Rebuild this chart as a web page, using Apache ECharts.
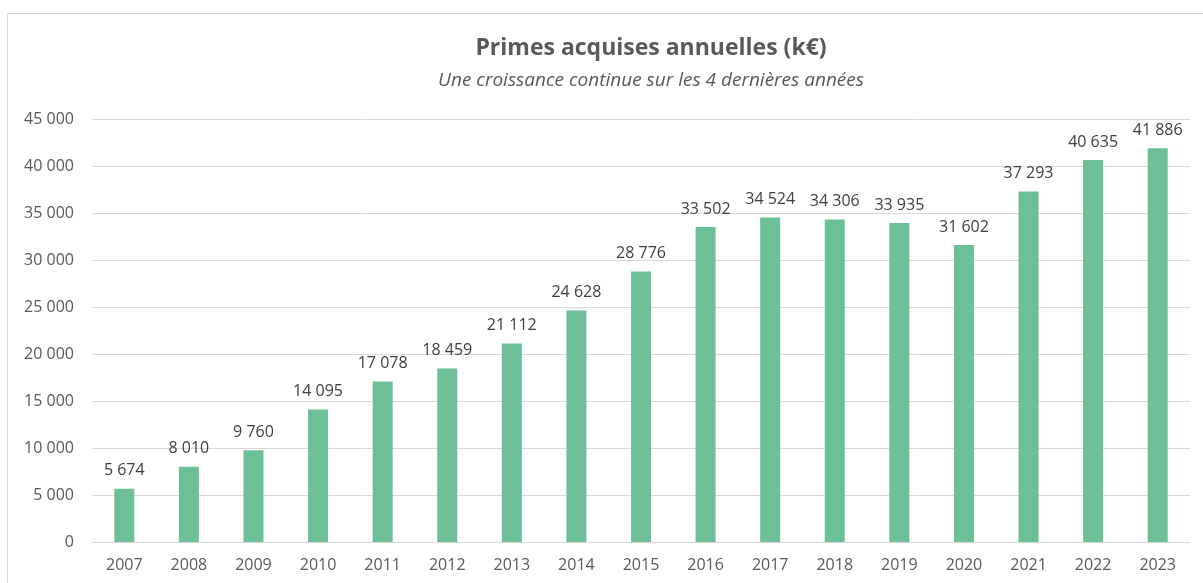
<!DOCTYPE html>
<html>
<head>
<meta charset="utf-8">
<script src="https://cdn.jsdelivr.net/npm/echarts@6/dist/echarts.min.js"></script>
<style>
  html, body { margin: 0; padding: 0; background: #fff; }
  #frame { position: absolute; left: 7px; top: 13px; width: 1220px; height: 600px; border: 1px solid #d9d9d9; }
  #chart { position: absolute; left: 0; top: 0; width: 1203px; height: 583px; }
</style>
</head>
<body>
<div id="frame"></div>
<div id="chart"></div>
<script>
var years = ['2007','2008','2009','2010','2011','2012','2013','2014','2015','2016','2017','2018','2019','2020','2021','2022','2023'];
var primes = [5674, 8010, 9760, 14095, 17078, 18459, 21112, 24628, 28776, 33502, 34524, 34306, 33935, 31602, 37293, 40635, 41886];

function fmt(v){
	return String(v).replace(/\B(?=(\d{3})+(?!\d))/g, ' ');
}

var chart = echarts.init(document.getElementById('chart'));
chart.setOption({
	animation: false,
	title: {
		text: 'Primes acquises annuelles (k€)',
		subtext: 'Une croissance continue sur les 4 dernières années',
		left: 646,
		textAlign: 'center',
		top: 32,
		itemGap: 11,
		textStyle: { fontFamily: 'Open Sans', fontSize: 23, fontWeight: 'bold', color: '#595959' },
		subtextStyle: { fontFamily: 'Open Sans', fontSize: 19, fontStyle: 'italic', color: '#595959' }
	},
	grid: { left: 92, right: 13, top: 119, bottom: 41 },
	xAxis: {
		type: 'category',
		data: years,
		axisLine: { lineStyle: { color: '#d9d9d9' } },
		axisTick: { show: false },
		axisLabel: { color: '#595959', fontFamily: 'Open Sans', fontSize: 16, margin: 15 }
	},
	yAxis: {
		type: 'value',
		min: 0,
		max: 45000,
		interval: 5000,
		axisLine: { show: false },
		axisTick: { show: false },
		splitLine: { lineStyle: { color: '#d9d9d9' } },
		axisLabel: { color: '#595959', fontFamily: 'Open Sans', fontSize: 16, margin: 18, formatter: fmt }
	},
	series: [{
		type: 'bar',
		data: primes,
		barWidth: 20,
		itemStyle: { color: '#6dbf98' },
		label: {
			show: true,
			position: 'top',
			distance: 10,
			color: '#404040',
			fontFamily: 'Open Sans',
			fontSize: 16,
			formatter: function(p){ return fmt(p.value); }
		}
	}]
});
</script>
</body>
</html>
